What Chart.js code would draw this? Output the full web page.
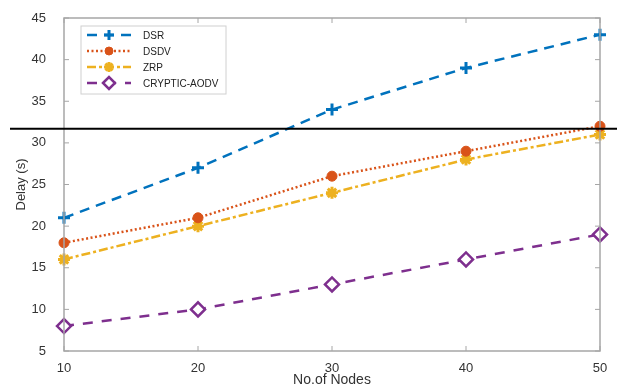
<!DOCTYPE html>
<html>
<head>
<meta charset="utf-8">
<script src="https://cdn.jsdelivr.net/npm/chart.js@4"></script>
<style>
  html, body { margin: 0; padding: 0; background: #fff; }
  #wrap { width: 617px; height: 389px; }
</style>
</head>
<body>
<div id="wrap"><canvas id="chart" width="617" height="389"></canvas></div>
<script>
// =============================================================
// DATA
// =============================================================
const nodes      = [10, 20, 30, 40, 50];
const dsr        = [21, 27, 34, 39, 43];
const dsdv       = [18, 21, 26, 29, 32];
const zrp        = [16, 20, 24, 28, 31];
const cryptic    = [8, 10, 13, 16, 19];
const yTicks     = [5, 10, 15, 20, 25, 30, 35, 40, 45];
const markLevel  = 31.7;   // black reference line

const FONT = "'Liberation Sans', Arial, sans-serif";
const AXIS = "#a6a6a6";

const series = [
    { label: "DSR",          data: dsr,     color: "#0072BD", dash: [10, 7],       style: "cross",   r: 6, bw: 3,   fill: "#0072BD" },
    { label: "DSDV",         data: dsdv,    color: "#D95319", dash: [2, 2.5],      style: "circle",  r: 5, bw: 1,   fill: "#D95319" },
    { label: "ZRP",          data: zrp,     color: "#EDB120", dash: [9, 3, 3, 3],  style: "star",    r: 6, bw: 3,   fill: "#EDB120" },
    { label: "CRYPTIC-AODV", data: cryptic, color: "#7E2F8E", dash: [10, 9],       style: "rectRot", r: 7, bw: 2.5, fill: "#ffffff" }
];

// =============================================================
// PLUGIN: box, inward ticks, legend, black line
// =============================================================
const decor = {
    id: "decor",
    afterDatasetsDraw(chart) {
        const { ctx, chartArea: a, scales: { x, y } } = chart;
        ctx.save();

        // box
        ctx.strokeStyle = AXIS;
        ctx.lineWidth = 1.5;
        ctx.setLineDash([]);
        ctx.strokeRect(a.left, a.top, a.right - a.left, a.bottom - a.top);

        // inward ticks
        ctx.lineWidth = 1;
        nodes.forEach(v => {
            const px = x.getPixelForValue(v);
            ctx.beginPath();
            ctx.moveTo(px, a.bottom); ctx.lineTo(px, a.bottom - 5);
            ctx.moveTo(px, a.top);    ctx.lineTo(px, a.top + 5);
            ctx.stroke();
        });
        yTicks.forEach(v => {
            const py = y.getPixelForValue(v);
            ctx.beginPath();
            ctx.moveTo(a.left, py);  ctx.lineTo(a.left + 5, py);
            ctx.moveTo(a.right, py); ctx.lineTo(a.right - 5, py);
            ctx.stroke();
        });

        // legend
        const lx = 81, ly = 26, lw = 145, lh = 68;
        ctx.fillStyle = "#fff";
        ctx.fillRect(lx, ly, lw, lh);
        ctx.strokeStyle = "#d0d0d0";
        ctx.lineWidth = 1;
        ctx.strokeRect(lx, ly, lw, lh);
        ctx.font = "10px " + FONT;
        ctx.textBaseline = "middle";
        series.forEach((s, i) => {
            const cy = ly + 9 + i * 16;
            ctx.strokeStyle = s.color;
            ctx.lineWidth = 2.5;
            ctx.setLineDash(s.dash);
            ctx.beginPath();
            ctx.moveTo(lx + 6, cy); ctx.lineTo(lx + 50, cy);
            ctx.stroke();
            ctx.setLineDash([]);
            ctx.fillStyle = s.fill;
            ctx.strokeStyle = s.color;
            ctx.lineWidth = s.bw;
            Chart.helpers.drawPoint(ctx, {
                pointStyle: s.style, radius: s.r - 1, borderWidth: s.bw, rotation: 0
            }, lx + 28, cy);
            ctx.fillStyle = "#222";
            ctx.fillText(s.label, lx + 62, cy + 1);
        });

        // black line
        const by = y.getPixelForValue(markLevel);
        ctx.strokeStyle = "#000";
        ctx.lineWidth = 2;
        ctx.setLineDash([]);
        ctx.beginPath();
        ctx.moveTo(10, by); ctx.lineTo(617, by);
        ctx.stroke();

        ctx.restore();
    }
};

// =============================================================
// CHART
// =============================================================
new Chart(document.getElementById("chart"), {
    type: "line",
    data: {
        datasets: series.map(s => ({
            label: s.label,
            data: nodes.map((n, i) => ({ x: n, y: s.data[i] })),
            borderColor: s.color,
            borderWidth: 2.5,
            borderDash: s.dash,
            pointStyle: s.style,
            pointRadius: s.r,
            pointBorderWidth: s.bw,
            pointBorderColor: s.color,
            pointBackgroundColor: s.fill,
            tension: 0,
            clip: false
        }))
    },
    options: {
        responsive: false,
        animation: false,
        layout: { padding: { left: 14, right: 17, top: 18, bottom: 0 } },
        plugins: { legend: { display: false }, tooltip: { enabled: false } },
        scales: {
            x: {
                type: "linear",
                min: 10, max: 50,
                grid: { display: false },
                border: { display: false },
                ticks: { stepSize: 10, color: "#333", font: { family: FONT, size: 13 }, padding: 2 },
                title: { display: true, text: "No.of Nodes", color: "#333", font: { family: FONT, size: 14 }, padding: { top: 1, bottom: 0 } },
                afterFit(s) { s.height = 38; }
            },
            y: {
                min: 5, max: 45,
                grid: { display: false },
                border: { display: false },
                ticks: { stepSize: 5, color: "#333", font: { family: FONT, size: 13 }, padding: 10 },
                title: { display: true, text: "Delay (s)", color: "#333", font: { family: FONT, size: 13 }, padding: { top: 0, bottom: 0 } },
                afterFit(s) { s.width = 50; }
            }
        }
    },
    plugins: [decor]
});
</script>
</body>
</html>
